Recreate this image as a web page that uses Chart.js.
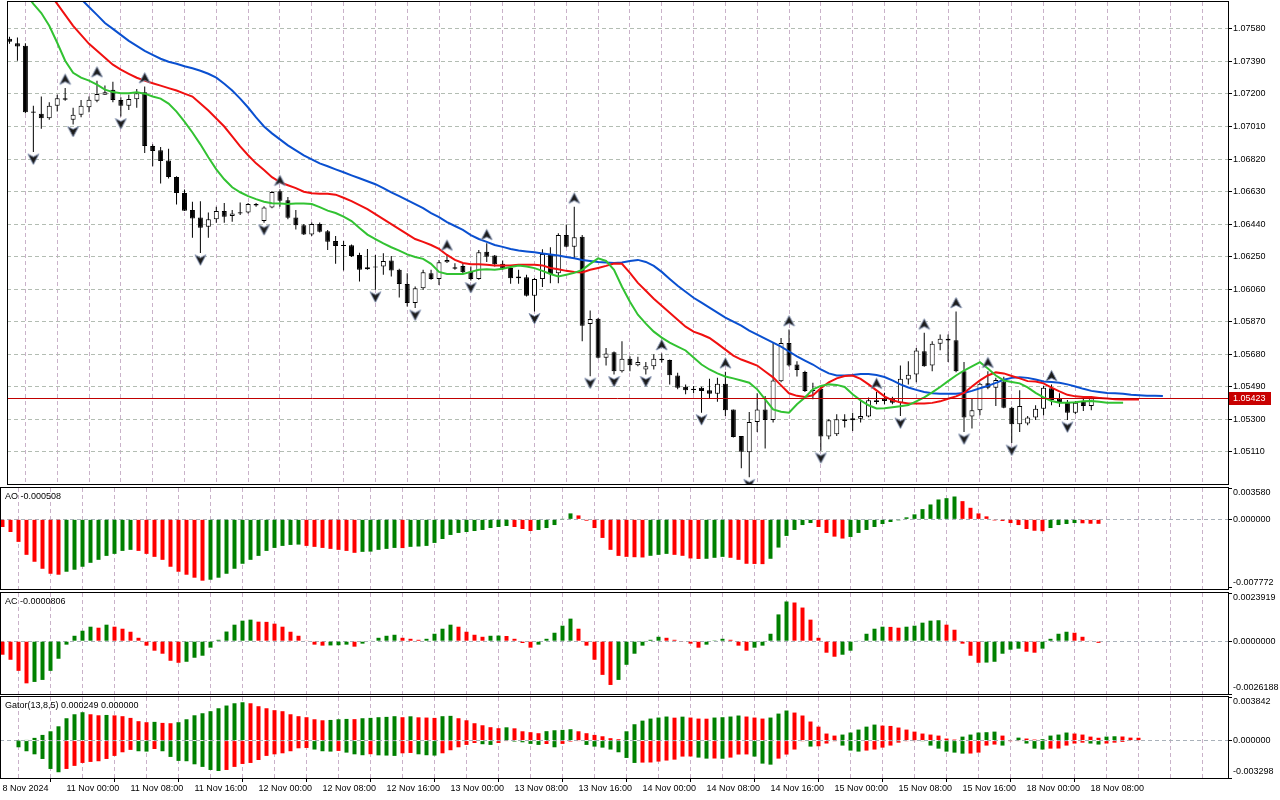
<!DOCTYPE html>
<html><head><meta charset="utf-8">
<script src="https://cdn.jsdelivr.net/npm/chart.js@4.4.1/dist/chart.umd.min.js"></script>
<style>
html,body{margin:0;padding:0;background:#fff;width:1280px;height:800px;overflow:hidden;position:relative;}
canvas{position:absolute;left:0;}
</style></head><body>
<canvas id="cMain" width="1280" height="496" style="top:-5px"></canvas>
<canvas id="cAO" width="1280" height="120" style="top:478px"></canvas>
<canvas id="cAC" width="1280" height="120" style="top:583px"></canvas>
<canvas id="cGator" width="1280" height="113" style="top:687px"></canvas>
<script>
// ---------------- DATA (EURUSD H1, bar 0 = 8 Nov 2024 16:00) ----------------
const timeLabels = ['8 Nov 2024','11 Nov 00:00','11 Nov 08:00','11 Nov 16:00','12 Nov 00:00','12 Nov 08:00','12 Nov 16:00','13 Nov 00:00','13 Nov 08:00','13 Nov 16:00','14 Nov 00:00','14 Nov 08:00','14 Nov 16:00','15 Nov 00:00','15 Nov 08:00','15 Nov 16:00','18 Nov 00:00','18 Nov 08:00'];
const priceTicks = [1.0758,1.0739,1.0720,1.0701,1.0682,1.0663,1.0644,1.0625,1.0606,1.0587,1.0568,1.0549,1.0530,1.0511];
const aoTicks = [0.00358, 0, -0.007772];
const acTicks = [0.0023919, 0, -0.0026188];
const gatorTicks = [0.003842, 0, -0.003298];
const lastPrice = 1.05423;

const open = [1.07522,1.07497,1.07481,1.07097,1.07084,1.07058,1.07131,1.07175,1.07049,1.07078,
1.07122,1.07161,1.07196,1.07224,1.07165,1.07132,1.07169,1.07210,1.06896,1.06871,
1.06812,1.06715,1.06622,1.06522,1.06479,1.06425,1.06468,1.06516,1.06487,1.06510,
1.06508,1.06557,1.06458,1.06537,1.06632,1.06580,1.06479,1.06434,1.06380,1.06440,
1.06399,1.06341,1.06316,1.06316,1.06260,1.06177,1.06192,1.06192,1.06227,1.06173,
1.06090,1.05979,1.06066,1.06153,1.06119,1.06217,1.06188,1.06196,1.06163,1.06120,
1.06279,1.06257,1.06208,1.06183,1.06134,1.06130,1.06022,1.06119,1.06266,1.06153,
1.06376,1.06308,1.06366,1.05857,1.05888,1.05659,1.05692,1.05581,1.05653,1.05616,
1.05591,1.05610,1.05653,1.05646,1.05556,1.05490,1.05479,1.05485,1.05469,1.05450,
1.05508,1.05357,1.05202,1.05107,1.05285,1.05358,1.05296,1.05523,1.05746,1.05620,
1.05577,1.05472,1.05479,1.05200,1.05213,1.05290,1.05294,1.05304,1.05316,1.05411,
1.05421,1.05421,1.05397,1.05533,1.05562,1.05698,1.05614,1.05741,1.05770,1.05762,
1.05581,1.05316,1.05353,1.05510,1.05485,1.05521,1.05368,1.05271,1.05275,1.05310,
1.05362,1.05481,1.05421,1.05401,1.05339,1.05407,1.05378,1.05423];
const high = [1.07534,1.07530,1.07497,1.07132,1.07185,1.07152,1.07196,1.07235,1.07119,1.07165,
1.07185,1.07278,1.07249,1.07272,1.07181,1.07196,1.07229,1.07243,1.06906,1.06890,
1.06880,1.06719,1.06642,1.06570,1.06574,1.06508,1.06541,1.06564,1.06522,1.06566,
1.06564,1.06564,1.06545,1.06634,1.06644,1.06599,1.06522,1.06440,1.06450,1.06450,
1.06405,1.06370,1.06341,1.06321,1.06273,1.06295,1.06260,1.06270,1.06254,1.06179,
1.06153,1.06076,1.06173,1.06173,1.06231,1.06266,1.06212,1.06208,1.06192,1.06289,
1.06328,1.06260,1.06227,1.06192,1.06173,1.06144,1.06126,1.06293,1.06305,1.06386,
1.06438,1.06541,1.06376,1.05936,1.05891,1.05717,1.05696,1.05756,1.05668,1.05665,
1.05634,1.05680,1.05684,1.05649,1.05572,1.05504,1.05494,1.05490,1.05537,1.05543,
1.05578,1.05358,1.05203,1.05343,1.05452,1.05436,1.05746,1.05775,1.05824,1.05639,
1.05583,1.05514,1.05494,1.05300,1.05329,1.05329,1.05339,1.05411,1.05427,1.05459,
1.05455,1.05432,1.05614,1.05639,1.05717,1.05805,1.05756,1.05795,1.05795,1.05930,
1.05634,1.05421,1.05514,1.05581,1.05543,1.05549,1.05374,1.05469,1.05319,1.05382,
1.05496,1.05504,1.05452,1.05413,1.05407,1.05427,1.05432,1.05425];
const low = [1.07493,1.07394,1.07088,1.06861,1.06997,1.07049,1.07097,1.07161,1.07022,1.07064,
1.07093,1.07152,1.07195,1.07152,1.07068,1.07107,1.07119,1.06855,1.06778,1.06677,
1.06706,1.06555,1.06516,1.06361,1.06272,1.06361,1.06448,1.06448,1.06454,1.06493,
1.06502,1.06541,1.06448,1.06532,1.06541,1.06468,1.06409,1.06376,1.06370,1.06391,
1.06289,1.06208,1.06169,1.06248,1.06105,1.06173,1.06056,1.06144,1.06134,1.06012,
1.05959,1.05950,1.06056,1.06115,1.06085,1.06213,1.06173,1.06153,1.06110,1.06115,
1.06219,1.06192,1.06173,1.06091,1.06091,1.06017,1.05930,1.06072,1.06095,1.06095,
1.06305,1.06241,1.05756,1.05552,1.05655,1.05614,1.05562,1.05574,1.05581,1.05610,
1.05562,1.05591,1.05632,1.05504,1.05475,1.05446,1.05452,1.05339,1.05421,1.05403,
1.05319,1.05194,1.05014,1.04961,1.05226,1.05130,1.05281,1.05517,1.05609,1.05550,
1.05460,1.05417,1.05116,1.05184,1.05203,1.05252,1.05232,1.05281,1.05312,1.05388,
1.05388,1.05388,1.05319,1.05504,1.05517,1.05607,1.05581,1.05703,1.05634,1.05575,
1.05226,1.05246,1.05324,1.05475,1.05378,1.05364,1.05161,1.05226,1.05265,1.05296,
1.05324,1.05382,1.05372,1.05296,1.05329,1.05348,1.05353,1.05420];
const close = [1.07505,1.07477,1.07093,1.07090,1.07058,1.07131,1.07175,1.07167,1.07078,1.07131,
1.07167,1.07200,1.07210,1.07165,1.07132,1.07171,1.07204,1.06896,1.06867,1.06808,
1.06715,1.06622,1.06518,1.06473,1.06419,1.06469,1.06516,1.06483,1.06502,1.06502,
1.06557,1.06549,1.06537,1.06628,1.06576,1.06477,1.06434,1.06380,1.06440,1.06395,
1.06337,1.06312,1.06312,1.06254,1.06173,1.06188,1.06186,1.06225,1.06169,1.06090,
1.05979,1.06066,1.06159,1.06119,1.06217,1.06231,1.06179,1.06159,1.06119,1.06276,
1.06250,1.06206,1.06179,1.06124,1.06124,1.06022,1.06120,1.06266,1.06148,1.06376,
1.06308,1.06363,1.05847,1.05886,1.05659,1.05684,1.05581,1.05653,1.05616,1.05634,
1.05610,1.05653,1.05645,1.05558,1.05485,1.05469,1.05471,1.05465,1.05450,1.05508,
1.05353,1.05197,1.05110,1.05285,1.05358,1.05296,1.05527,1.05746,1.05614,1.05588,
1.05465,1.05466,1.05200,1.05294,1.05300,1.05300,1.05306,1.05319,1.05411,1.05401,
1.05407,1.05397,1.05537,1.05560,1.05702,1.05610,1.05741,1.05770,1.05760,1.05581,
1.05310,1.05353,1.05508,1.05485,1.05529,1.05368,1.05271,1.05378,1.05310,1.05362,
1.05485,1.05413,1.05401,1.05339,1.05397,1.05378,1.05423,1.05423];

const fractalUpBars = [7,11,17,34,55,60,71,82,90,98,109,115,119,123,131];
const fractalDownBars = [3,8,14,24,32,46,51,58,66,73,76,80,87,93,102,112,120,126,133];

const jaw = [null,null,null,null,null,null,null,null,null,
1.07755,1.07708,1.07662,1.07615,1.07580,1.07545,1.07510,1.07481,1.07452,1.07429,
1.07406,1.07388,1.07377,1.07362,1.07350,1.07336,1.07318,1.07295,1.07260,1.07220,
1.07173,1.07121,1.07063,1.07010,1.06970,1.06935,1.06900,1.06871,1.06842,1.06818,
1.06795,1.06778,1.06760,1.06743,1.06725,1.06708,1.06690,1.06673,1.06650,1.06626,
1.06603,1.06580,1.06557,1.06533,1.06504,1.06481,1.06452,1.06429,1.06406,1.06376,
1.06353,1.06336,1.06318,1.06307,1.06295,1.06286,1.06280,1.06275,1.06269,1.06263,
1.06257,1.06248,1.06240,1.06231,1.06225,1.06219,1.06216,1.06213,1.06216,1.06225,
1.06231,1.06219,1.06196,1.06161,1.06120,1.06080,1.06045,1.06010,1.05981,1.05952,
1.05923,1.05894,1.05870,1.05847,1.05818,1.05795,1.05771,1.05748,1.05725,1.05696,
1.05667,1.05643,1.05620,1.05591,1.05568,1.05556,1.05556,1.05559,1.05565,1.05565,
1.05559,1.05547,1.05527,1.05504,1.05486,1.05472,1.05460,1.05452,1.05449,1.05449,
1.05449,1.05454,1.05466,1.05481,1.05495,1.05513,1.05531,1.05542,1.05545,1.05542,
1.05533,1.05521,1.05518,1.05513,1.05504,1.05492,1.05478,1.05466,1.05460,1.05454,
1.05452,1.05449,1.05443,1.05440,1.05437,1.05437,1.05436];
const teeth = [null,null,null,null,null,
1.07790,1.07726,1.07662,1.07598,1.07545,1.07493,1.07452,1.07411,1.07371,1.07342,
1.07318,1.07295,1.07278,1.07263,1.07249,1.07234,1.07220,1.07202,1.07185,1.07144,
1.07103,1.07057,1.07010,1.06952,1.06894,1.06842,1.06795,1.06756,1.06714,1.06685,
1.06667,1.06650,1.06629,1.06620,1.06618,1.06618,1.06612,1.06594,1.06574,1.06551,
1.06527,1.06498,1.06469,1.06440,1.06411,1.06382,1.06353,1.06336,1.06318,1.06295,
1.06260,1.06231,1.06213,1.06206,1.06205,1.06202,1.06199,1.06199,1.06199,1.06202,
1.06202,1.06202,1.06199,1.06184,1.06176,1.06167,1.06161,1.06158,1.06173,1.06184,
1.06196,1.06210,1.06208,1.06155,1.06097,1.06051,1.06004,1.05963,1.05923,1.05882,
1.05841,1.05812,1.05795,1.05775,1.05742,1.05707,1.05672,1.05649,1.05632,1.05614,
1.05579,1.05545,1.05498,1.05452,1.05437,1.05431,1.05440,1.05481,1.05516,1.05539,
1.05553,1.05556,1.05536,1.05504,1.05469,1.05434,1.05411,1.05399,1.05392,1.05392,
1.05393,1.05396,1.05405,1.05420,1.05434,1.05454,1.05492,1.05527,1.05556,1.05574,
1.05568,1.05553,1.05539,1.05523,1.05521,1.05510,1.05485,1.05463,1.05443,1.05434,
1.05431,1.05430,1.05425,1.05421,1.05417,1.05416,1.05415,1.05415];
const lips = [null,null,
1.07790,1.07726,1.07673,1.07598,1.07499,1.07394,1.07324,1.07295,1.07278,1.07254,
1.07225,1.07211,1.07204,1.07205,1.07210,1.07202,1.07185,1.07173,1.07144,1.07097,
1.07039,1.06975,1.06906,1.06830,1.06760,1.06702,1.06655,1.06626,1.06603,1.06586,
1.06571,1.06562,1.06560,1.06557,1.06560,1.06561,1.06557,1.06539,1.06519,1.06505,
1.06484,1.06458,1.06417,1.06379,1.06353,1.06327,1.06305,1.06285,1.06263,1.06248,
1.06237,1.06208,1.06161,1.06149,1.06149,1.06149,1.06161,1.06173,1.06176,1.06173,
1.06179,1.06190,1.06198,1.06193,1.06183,1.06167,1.06149,1.06134,1.06144,1.06155,
1.06173,1.06208,1.06240,1.06225,1.06173,1.06074,1.05987,1.05911,1.05859,1.05812,
1.05777,1.05748,1.05725,1.05702,1.05661,1.05620,1.05591,1.05568,1.05550,1.05539,
1.05527,1.05514,1.05475,1.05417,1.05358,1.05344,1.05339,1.05388,1.05428,1.05475,
1.05495,1.05504,1.05501,1.05489,1.05446,1.05411,1.05382,1.05363,1.05364,1.05370,
1.05376,1.05383,1.05405,1.05428,1.05457,1.05489,1.05523,1.05556,1.05585,1.05609,
1.05634,1.05597,1.05556,1.05527,1.05518,1.05510,1.05486,1.05454,1.05428,1.05407,
1.05397,1.05397,1.05399,1.05405,1.05407,1.05402,1.05397,1.05397,1.05397];

const ao = [-0.00087,-0.00144,-0.00257,-0.00405,-0.00484,-0.00564,-0.00621,-0.00632,-0.00598,-0.00575,
-0.00541,-0.00496,-0.00462,-0.00417,-0.00394,-0.00360,-0.00348,-0.00360,-0.00394,-0.00428,
-0.00462,-0.00541,-0.00598,-0.00632,-0.00666,-0.00700,-0.00689,-0.00666,-0.00621,-0.00564,
-0.00507,-0.00462,-0.00417,-0.00360,-0.00326,-0.00303,-0.00292,-0.00288,-0.00303,-0.00314,
-0.00326,-0.00337,-0.00348,-0.00360,-0.00382,-0.00371,-0.00368,-0.00348,-0.00337,-0.00326,
-0.00328,-0.00314,-0.00310,-0.00303,-0.00269,-0.00224,-0.00178,-0.00155,-0.00144,-0.00133,
-0.00121,-0.00099,-0.00087,-0.00076,-0.00087,-0.00110,-0.00133,-0.00121,-0.00099,-0.00065,
0.00002,0.00068,0.00045,-0.00015,-0.00099,-0.00212,-0.00348,-0.00417,-0.00428,-0.00432,
-0.00435,-0.00416,-0.00405,-0.00394,-0.00405,-0.00416,-0.00446,-0.00452,-0.00450,-0.00439,
-0.00428,-0.00439,-0.00462,-0.00507,-0.00509,-0.00511,-0.00450,-0.00322,-0.00189,-0.00121,
-0.00065,-0.00042,-0.00087,-0.00155,-0.00197,-0.00219,-0.00201,-0.00155,-0.00121,-0.00087,
-0.00053,-0.00030,-0.00011,0.00023,0.00057,0.00117,0.00170,0.00227,0.00242,0.00261,
0.00208,0.00132,0.00068,0.00034,-0.00012,-0.00018,-0.00042,-0.00065,-0.00110,-0.00130,
-0.00135,-0.00099,-0.00065,-0.00053,-0.00042,-0.00045,-0.00050,-0.000508];

const ac = [-0.00067,-0.00092,-0.00147,-0.00209,-0.00202,-0.00192,-0.00147,-0.00087,-0.00017,0.00027,
0.00052,0.00072,0.00067,0.00082,0.00072,0.00062,0.00047,0.00017,-0.00022,-0.00047,
-0.00062,-0.00097,-0.00107,-0.00102,-0.00082,-0.00072,-0.00032,0.00007,0.00048,0.00082,
0.00102,0.00107,0.00097,0.00096,0.00087,0.00072,0.00047,0.00027,0.00003,-0.00017,
-0.00022,-0.00021,-0.00020,-0.00017,-0.00027,-0.00012,0.00003,0.00017,0.00027,0.00032,
0.00017,0.00012,0.00007,0.00012,0.00037,0.00062,0.00082,0.00072,0.00047,0.00032,
0.00022,0.00027,0.00028,0.00026,0.00012,-0.00009,-0.00032,-0.00017,0.00012,0.00042,
0.00077,0.00112,0.00062,-0.00022,-0.00092,-0.00167,-0.00217,-0.00192,-0.00117,-0.00062,
-0.00022,0.00007,0.00022,0.00017,0.00007,-0.00002,-0.00012,-0.00032,-0.00017,0.00001,
0.00012,0.00007,-0.00022,-0.00047,-0.00032,-0.00022,0.00037,0.00133,0.00197,0.00192,
0.00167,0.00107,0.00017,-0.00057,-0.00077,-0.00067,-0.00047,0.00003,0.00037,0.00062,
0.00072,0.00071,0.00067,0.00072,0.00077,0.00092,0.00102,0.00104,0.00082,0.00057,
-0.00012,-0.00072,-0.00107,-0.00106,-0.00102,-0.00062,-0.00042,-0.00037,-0.00052,-0.00057,
-0.00037,0.00012,0.00037,0.00047,0.00042,0.00022,0.00002,-0.0000806];

const gatorUp = [null,null,0.00001,0.00006,0.00024,0.00050,0.00082,0.00126,0.00197,0.00232,
0.00250,0.00232,0.00223,0.00226,0.00222,0.00215,0.00200,0.00171,0.00162,0.00165,
0.00156,0.00153,0.00162,0.00188,0.00223,0.00241,0.00259,0.00285,0.00309,0.00329,
0.00338,0.00329,0.00303,0.00285,0.00268,0.00259,0.00232,0.00215,0.00206,0.00188,
0.00179,0.00182,0.00188,0.00191,0.00189,0.00197,0.00200,0.00206,0.00209,0.00215,
0.00206,0.00214,0.00205,0.00203,0.00200,0.00215,0.00218,0.00197,0.00179,0.00153,
0.00135,0.00118,0.00109,0.00117,0.00108,0.00082,0.00074,0.00065,0.00083,0.00091,
0.00094,0.00100,0.00082,0.00065,0.00050,0.00038,0.00021,0.00012,0.00082,0.00144,
0.00176,0.00194,0.00203,0.00212,0.00202,0.00211,0.00203,0.00194,0.00193,0.00203,
0.00206,0.00212,0.00221,0.00212,0.00203,0.00194,0.00203,0.00238,0.00265,0.00247,
0.00221,0.00168,0.00123,0.00062,0.00044,0.00053,0.00071,0.00097,0.00123,0.00141,
0.00132,0.00129,0.00115,0.00097,0.00079,0.00062,0.00053,0.00044,0.00018,0.00009,
0.00035,0.00053,0.00071,0.00074,0.00079,0.00044,0.00003,0.00026,0.00018,0.00009,
0.00012,0.00044,0.00053,0.00071,0.00062,0.00053,0.00035,0.000249,0.00035,0.00038,
0.00036,0.00026,0.00025];
const gatorDown = [null,null,-0.00059,-0.00094,-0.00121,-0.00162,-0.00250,-0.00279,-0.00250,-0.00223,
-0.00197,-0.00188,-0.00182,-0.00162,-0.00135,-0.00103,-0.00082,-0.00094,-0.00097,-0.00074,
-0.00094,-0.00144,-0.00179,-0.00182,-0.00209,-0.00232,-0.00259,-0.00268,-0.00259,-0.00232,
-0.00206,-0.00197,-0.00171,-0.00135,-0.00121,-0.00112,-0.00094,-0.00068,-0.00065,-0.00079,
-0.00094,-0.00097,-0.00091,-0.00106,-0.00121,-0.00129,-0.00120,-0.00130,-0.00132,-0.00135,
-0.00112,-0.00109,-0.00121,-0.00129,-0.00132,-0.00112,-0.00085,-0.00059,-0.00038,-0.00021,
-0.00032,-0.00038,-0.00021,-0.00003,-0.00009,-0.00015,-0.00029,-0.00038,-0.00030,-0.00059,
-0.00029,-0.00009,-0.00003,-0.00038,-0.00053,-0.00062,-0.00079,-0.00103,-0.00153,-0.00197,
-0.00194,-0.00193,-0.00185,-0.00176,-0.00168,-0.00141,-0.00140,-0.00150,-0.00159,-0.00158,
-0.00160,-0.00150,-0.00123,-0.00122,-0.00141,-0.00203,-0.00212,-0.00159,-0.00123,-0.00079,
-0.00006,-0.00053,-0.00050,-0.00026,-0.00006,-0.00044,-0.00088,-0.00097,-0.00088,-0.00079,
-0.00062,-0.00044,-0.00018,-0.00006,-0.00003,-0.00006,-0.00044,-0.00071,-0.00097,-0.00106,
-0.00115,-0.00114,-0.00106,-0.00044,-0.00035,-0.00044,-0.00006,-0.00003,-0.00026,-0.00071,
-0.00079,-0.00071,-0.00070,-0.00044,-0.00026,-0.00018,-0.00026,-0.00035,-0.00026,-0.00018,
-0.00012];

// ---------------- LAYOUT / STYLE ----------------
const X_MIN = -0.3125, X_MAX = 153.1875;       // 8 px per bar, plot 0..1228
const Y_MIN = 1.049222, Y_MAX = 1.077372;
const FONT = {family: "'Liberation Sans', Arial, sans-serif", size: 9};
const GREEN = '#008000', RED = '#ff0000';
const VGRID = '#c9b2c9', HGRID = '#b3bdb3', ZGRID = '#a9b1b9';

Chart.defaults.font.family = FONT.family;
Chart.defaults.font.size = FONT.size;

const gridIdx = [];
for (let v = 0; v <= 152; v += 4) gridIdx.push(v);
const labelAt = v => (v % 8 === 0 && timeLabels[v / 8]) ? timeLabels[v / 8] : '';

const pts = arr => arr.map((v, i) => v == null ? null : {x: i, y: v}).filter(p => p);
const bars = open.map((_, i) => i);

function makeArrow(up) {
  const c = document.createElement('canvas');
  c.width = 13; c.height = 31;
  const g = c.getContext('2d');
  g.translate(6.5, up ? 7 : 22.5);
  if (!up) g.scale(1, -1);
  g.beginPath();
  g.moveTo(0, -5.5); g.lineTo(5.5, 5); g.lineTo(0, 2.2); g.lineTo(-5.5, 5); g.closePath();
  g.fillStyle = '#1c1c1c'; g.fill();
  g.lineWidth = 0.9; g.strokeStyle = '#8090b0'; g.stroke();
  return c;
}
const arrowUp = makeArrow(true), arrowDown = makeArrow(false);

function xScale(showLabels) {
  return {
    type: 'linear', min: X_MIN, max: X_MAX, offset: false,
    afterBuildTicks: s => { s.ticks = gridIdx.map(v => ({value: v})); },
    afterFit: s => { s.height = showLabels ? 22 : 0; s.paddingLeft = 0; s.paddingRight = 0; },
    grid: {
      color: VGRID, lineWidth: 1, drawTicks: showLabels, tickLength: 4, tickWidth: 1,
      tickColor: c => (c.tick && labelAt(c.tick.value)) ? '#000' : 'rgba(0,0,0,0)',
      tickBorderDash: []
    },
    border: {display: false, dash: [4, 3]},
    ticks: {
      display: showLabels, autoSkip: false, maxRotation: 0, minRotation: 0,
      align: 'start', padding: 1, color: '#000', font: FONT,
      callback: v => labelAt(v)
    }
  };
}
function yScale(min, max, tickVals, decimals, main) {
  return {
    type: 'linear', position: 'right', min, max,
    afterBuildTicks: s => { s.ticks = tickVals.map(v => ({value: v})); },
    afterFit: s => { s.width = 52; s.paddingTop = 0; s.paddingBottom = 0; },
    grid: {
      color: c => main ? HGRID : ((c.tick && c.tick.value === 0) ? ZGRID : 'rgba(0,0,0,0)'),
      lineWidth: 1, drawTicks: true, tickLength: 4, tickWidth: 1, tickColor: '#000', tickBorderDash: []
    },
    border: {display: false, dash: [4, 3]},
    ticks: {color: '#000', font: FONT, padding: 1, callback: v => Number(v).toFixed(decimals)}
  };
}

const framePlugin = {
  id: 'frame',
  afterDraw(chart) {
    const {ctx, chartArea: a} = chart;
    ctx.save();
    ctx.strokeStyle = '#000'; ctx.lineWidth = 1; ctx.setLineDash([]);
    ctx.strokeRect(a.left + 0.5, a.top - 0.5, a.right - a.left, a.bottom - a.top + 1);
    ctx.restore();
  }
};
const clampPlugin = {
  id: 'clampLabels',
  beforeDraw(chart) {
    const s = chart.scales.y, a = chart.chartArea;
    try {
      const items = s.getLabelItems(a);
      items.forEach(it => {
        const t = it.options.translation;
        t[1] = Math.min(Math.max(t[1], a.top + 5), a.bottom - 6);
      });
    } catch (e) {}
  }
};
const titlePlugin = {
  id: 'panelTitle',
  afterDraw(chart, args, opts) {
    if (!opts || !opts.text) return;
    const {ctx, chartArea: a} = chart;
    ctx.save();
    ctx.font = FONT.size + 'px ' + FONT.family;
    ctx.fillStyle = '#000'; ctx.textBaseline = 'middle'; ctx.textAlign = 'left';
    ctx.fillText(opts.text, a.left + 5, a.top + 9);
    ctx.restore();
  }
};
const pricePlugin = {
  id: 'priceLine',
  afterDatasetsDraw(chart) {
    const {ctx, chartArea: a} = chart;
    const y = Math.round(chart.scales.y.getPixelForValue(lastPrice)) + 0.5;
    ctx.save();
    ctx.strokeStyle = '#c00000'; ctx.lineWidth = 1; ctx.setLineDash([]);
    ctx.beginPath(); ctx.moveTo(a.left, y); ctx.lineTo(a.right, y); ctx.stroke();
    ctx.restore();
  },
  afterDraw(chart) {
    const {ctx, chartArea: a} = chart;
    const y = Math.round(chart.scales.y.getPixelForValue(lastPrice));
    ctx.save();
    ctx.fillStyle = '#c80000';
    ctx.fillRect(a.right + 1, y - 6, 42, 13);
    ctx.fillStyle = '#fff';
    ctx.font = FONT.size + 'px ' + FONT.family;
    ctx.textBaseline = 'middle'; ctx.textAlign = 'left';
    ctx.fillText(lastPrice.toFixed(5), a.right + 5, y + 0.5);
    ctx.restore();
  }
};

const baseOpts = (padTop, padBottom) => ({
  responsive: false, animation: false, devicePixelRatio: 1, events: [],
  layout: {padding: {top: padTop, bottom: padBottom, left: 0, right: 0}},
  plugins: {legend: {display: false}, tooltip: {enabled: false}}
});

// ---------------- MAIN PRICE CHART ----------------
const mainOpts = baseOpts(6, 6);
mainOpts.scales = {x: xScale(false), y: yScale(Y_MIN, Y_MAX, priceTicks, 5, true)};
new Chart(document.getElementById('cMain'), {
  type: 'bar',
  data: {datasets: [
    {type: 'line', label: 'Fractals up', data: fractalUpBars.map(i => ({x: i, y: high[i]})),
     showLine: false, pointStyle: arrowUp, pointRadius: 6, order: 0, clip: 0},
    {type: 'line', label: 'Fractals down', data: fractalDownBars.map(i => ({x: i, y: low[i]})),
     showLine: false, pointStyle: arrowDown, pointRadius: 6, order: 0, clip: 0},
    {type: 'line', label: 'Lips', data: pts(lips), borderColor: '#32c232', borderWidth: 2,
     pointRadius: 0, tension: 0, order: 1, clip: 0},
    {type: 'line', label: 'Teeth', data: pts(teeth), borderColor: '#f01010', borderWidth: 2,
     pointRadius: 0, tension: 0, order: 2, clip: 0},
    {type: 'line', label: 'Jaw', data: pts(jaw), borderColor: '#0a50d0', borderWidth: 2,
     pointRadius: 0, tension: 0, order: 3, clip: 0},
    {type: 'bar', label: 'Body', data: bars.map(i => ({x: i, y: [Math.min(open[i], close[i]), Math.max(open[i], close[i])]})),
     backgroundColor: c => (close[c.raw.x] >= open[c.raw.x]) ? '#ffffff' : '#000000',
     borderColor: '#000', borderWidth: 1, borderSkipped: false, barThickness: 5, minBarLength: 1,
     grouped: false, inflateAmount: 0, order: 5, clip: 0},
    {type: 'bar', label: 'Wick', data: bars.map(i => ({x: i, y: [low[i], high[i]]})),
     backgroundColor: '#000', borderWidth: 0, barThickness: 1, minBarLength: 1,
     grouped: false, inflateAmount: 0, order: 6, clip: 0}
  ]},
  options: mainOpts,
  plugins: [framePlugin, pricePlugin]
});

// ---------------- AO ----------------
const aoOpts = baseOpts(10, 9);
aoOpts.scales = {x: xScale(false), y: yScale(-0.00795, 0.00358, aoTicks, 6, false)};
aoOpts.plugins.panelTitle = {text: 'AO ' + ao[ao.length - 1].toFixed(6)};
new Chart(document.getElementById('cAO'), {
  type: 'bar',
  data: {datasets: [{
    label: 'AO', data: pts(ao),
    backgroundColor: c => { const i = c.raw.x; return (i > 0 && ao[i] > ao[i - 1]) ? GREEN : RED; },
    borderWidth: 0, barThickness: 4, grouped: false, inflateAmount: 0, clip: 0
  }]},
  options: aoOpts,
  plugins: [framePlugin, clampPlugin, titlePlugin]
});

// ---------------- AC ----------------
const acOpts = baseOpts(10, 9);
acOpts.scales = {x: xScale(false), y: yScale(-0.0026188, 0.0023919, acTicks, 7, false)};
acOpts.plugins.panelTitle = {text: 'AC ' + ac[ac.length - 1].toFixed(7)};
new Chart(document.getElementById('cAC'), {
  type: 'bar',
  data: {datasets: [{
    label: 'AC', data: pts(ac),
    backgroundColor: c => { const i = c.raw.x; return (i > 0 && ac[i] > ac[i - 1]) ? GREEN : RED; },
    borderWidth: 0, barThickness: 4, grouped: false, inflateAmount: 0, clip: 0
  }]},
  options: acOpts,
  plugins: [framePlugin, clampPlugin, titlePlugin]
});

// ---------------- GATOR ----------------
const gOpts = baseOpts(10, 0);
gOpts.scales = {x: xScale(true), y: yScale(-0.003298, 0.003842, gatorTicks, 6, false)};
gOpts.plugins.panelTitle = {text: 'Gator(13,8,5) 0.000249 0.000000'};
new Chart(document.getElementById('cGator'), {
  type: 'bar',
  data: {datasets: [
    {label: 'Gator up', data: pts(gatorUp),
     backgroundColor: c => { const i = c.raw.x; const p = gatorUp[i - 1]; return (p == null || gatorUp[i] > p) ? GREEN : RED; },
     borderWidth: 0, barThickness: 4, grouped: false, inflateAmount: 0, clip: 0},
    {label: 'Gator down', data: pts(gatorDown),
     backgroundColor: c => { const i = c.raw.x; const p = gatorDown[i - 1]; return (p == null || Math.abs(gatorDown[i]) > Math.abs(p)) ? GREEN : RED; },
     borderWidth: 0, barThickness: 4, grouped: false, inflateAmount: 0, clip: 0}
  ]},
  options: gOpts,
  plugins: [framePlugin, clampPlugin, titlePlugin]
});
</script>
</body></html>
